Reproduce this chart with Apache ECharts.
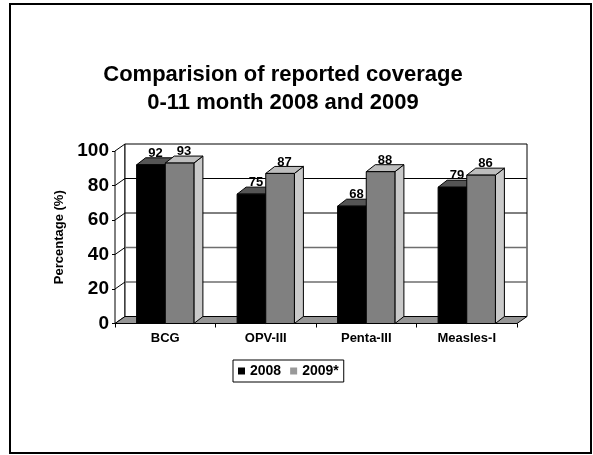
<!DOCTYPE html>
<html>
<head>
<meta charset="utf-8">
<script src="https://cdn.jsdelivr.net/npm/echarts@6/dist/echarts.min.js"></script>
<style>
  html, body { margin: 0; padding: 0; background: #fff; }
  #chart { width: 593px; height: 455px; }
</style>
</head>
<body>
<div id="chart"></div>
<script>
// Reported coverage, children 0-11 months
const categories = ['BCG', 'OPV-III', 'Penta-III', 'Measles-I'];
const seriesNames = ['2008', '2009*'];
const coverage2008 = [92, 75, 68, 79];
const coverage2009 = [93, 87, 88, 86];
const yTicks = [0, 20, 40, 60, 80, 100];

const FONT = '"Liberation Sans", Arial, Helvetica, sans-serif';

// depth offsets of the pseudo-3D box and of the columns
const WALL_DX = 10, WALL_DY = -7;
const BAR_DX = 9, BAR_DY = -7;
const BAR_RATIO = 0.285;

const faceColors = [
  { front: '#000000', top: '#555555', side: '#333333' },
  { front: '#808080', top: '#bdbdbd', side: '#c9c9c9' }
];

const chart = echarts.init(document.getElementById('chart'), null, { renderer: 'canvas' });

// back wall, side wall, gridlines and floor
function renderWalls(params, api) {
  const cs = params.coordSys;
  const x0 = cs.x, x1 = cs.x + cs.width;
  const yAt = v => api.coord([0, v])[1];
  const y0 = yAt(0), yTop = yAt(yTicks[yTicks.length - 1]);
  const children = [];
  children.push({
    type: 'polygon',
    shape: { points: [[x0, y0], [x0, yTop], [x0 + WALL_DX, yTop + WALL_DY], [x0 + WALL_DX, y0 + WALL_DY]] },
    style: { fill: '#ffffff', stroke: '#000', lineWidth: 1 }
  });
  children.push({
    type: 'rect',
    shape: { x: x0 + WALL_DX, y: yTop + WALL_DY, width: x1 - x0, height: y0 - yTop },
    style: { fill: '#ffffff', stroke: '#000', lineWidth: 1 }
  });
  yTicks.slice(1, -1).forEach(v => {
    const y = yAt(v);
    const strong = v >= 60;
    children.push({
      type: 'line',
      shape: { x1: x0 + WALL_DX, y1: y + WALL_DY, x2: x1 + WALL_DX, y2: y + WALL_DY },
      style: { stroke: strong ? '#000' : '#6e6e6e', lineWidth: strong ? 1 : 1.6 }
    });
    children.push({
      type: 'line',
      shape: { x1: x0, y1: y, x2: x0 + WALL_DX, y2: y + WALL_DY },
      style: { stroke: '#000', lineWidth: 1 }
    });
  });
  children.push({
    type: 'polygon',
    shape: { points: [[x0, y0], [x1, y0], [x1 + WALL_DX, y0 + WALL_DY], [x0 + WALL_DX, y0 + WALL_DY]] },
    style: { fill: '#959595', stroke: '#000', lineWidth: 1 }
  });
  return { type: 'group', children };
}

// one pseudo-3D column with its value label
function makeBarRenderer(k) {
  const c = faceColors[k];
  return function (params, api) {
    const i = api.value(0), v = api.value(1);
    const base = api.coord([i, 0]);
    const top = api.coord([i, v]);
    const bw = api.size([1, 0])[0] * BAR_RATIO;
    const left = base[0] + (k - 1) * bw;
    const right = left + bw;
    const yT = top[1], yB = base[1];
    return {
      type: 'group',
      children: [
        {
          type: 'polygon',
          shape: { points: [[right, yT], [right + BAR_DX, yT + BAR_DY], [right + BAR_DX, yB + BAR_DY], [right, yB]] },
          style: { fill: c.side, stroke: '#000', lineWidth: 1 }
        },
        {
          type: 'polygon',
          shape: { points: [[left, yT], [right, yT], [right + BAR_DX, yT + BAR_DY], [left + BAR_DX, yT + BAR_DY]] },
          style: { fill: c.top, stroke: '#000', lineWidth: 1 }
        },
        {
          type: 'rect',
          shape: { x: left, y: yT, width: bw, height: yB - yT },
          style: { fill: c.front, stroke: '#000', lineWidth: 1 }
        },
        {
          type: 'text',
          z2: 100,
          style: {
            text: String(v),
            x: left + bw / 2 + BAR_DX / 2,
            y: yT + BAR_DY + 2,
            align: 'center',
            verticalAlign: 'bottom',
            font: 'bold 13px ' + FONT,
            fill: '#000'
          }
        }
      ]
    };
  };
}

const option = {
  animation: false,
  backgroundColor: '#ffffff',
  graphic: [
    {
      type: 'rect',
      shape: { x: 10, y: 4, width: 581, height: 449 },
      style: { fill: 'none', stroke: '#000', lineWidth: 2 },
      silent: true
    },
    {
      type: 'text',
      x: 283,
      y: 61,
      style: {
        text: 'Comparision of reported coverage\n0-11 month 2008 and 2009',
        font: 'bold 22px ' + FONT,
        lineHeight: 28,
        align: 'center',
        verticalAlign: 'top',
        fill: '#000'
      }
    }
  ],
  grid: { left: 115, right: 76, top: 151, bottom: 131.5, containLabel: false },
  legend: {
    data: seriesNames,
    left: 233,
    top: 360,
    orient: 'horizontal',
    icon: 'rect',
    itemWidth: 7,
    itemHeight: 7,
    itemGap: 9,
    padding: [4, 5, 4, 5],
    borderColor: '#000',
    borderWidth: 1,
    textStyle: { fontFamily: FONT, fontWeight: 'bold', fontSize: 14, color: '#000' }
  },
  xAxis: {
    type: 'category',
    data: categories,
    boundaryGap: true,
    axisLine: { lineStyle: { color: '#000', width: 1 } },
    axisTick: { show: true, length: 4, lineStyle: { color: '#000' } },
    axisLabel: { margin: 8, fontFamily: FONT, fontWeight: 'bold', fontSize: 13, color: '#000' },
    splitLine: { show: false }
  },
  yAxis: {
    type: 'value',
    min: 0,
    max: 100,
    interval: 20,
    name: 'Percentage (%)',
    nameLocation: 'middle',
    nameRotate: 90,
    nameGap: 49,
    nameTextStyle: { fontFamily: FONT, fontWeight: 'bold', fontSize: 13, color: '#000' },
    axisLine: { show: true, lineStyle: { color: '#000', width: 1 } },
    axisTick: { show: true, length: 3, lineStyle: { color: '#000' } },
    axisLabel: { margin: 6, fontFamily: FONT, fontWeight: 'bold', fontSize: 19, color: '#000' },
    splitLine: { show: false }
  },
  series: [
    {
      type: 'custom',
      name: 'walls',
      z: 1,
      silent: true,
      data: [[0, 0]],
      renderItem: renderWalls
    },
    {
      type: 'custom',
      name: seriesNames[0],
      itemStyle: { color: '#000000' },
      data: coverage2008.map((v, i) => [i, v]),
      renderItem: makeBarRenderer(0)
    },
    {
      type: 'custom',
      name: seriesNames[1],
      itemStyle: { color: '#999999' },
      data: coverage2009.map((v, i) => [i, v]),
      renderItem: makeBarRenderer(1)
    }
  ]
};

chart.setOption(option);
</script>
</body>
</html>
